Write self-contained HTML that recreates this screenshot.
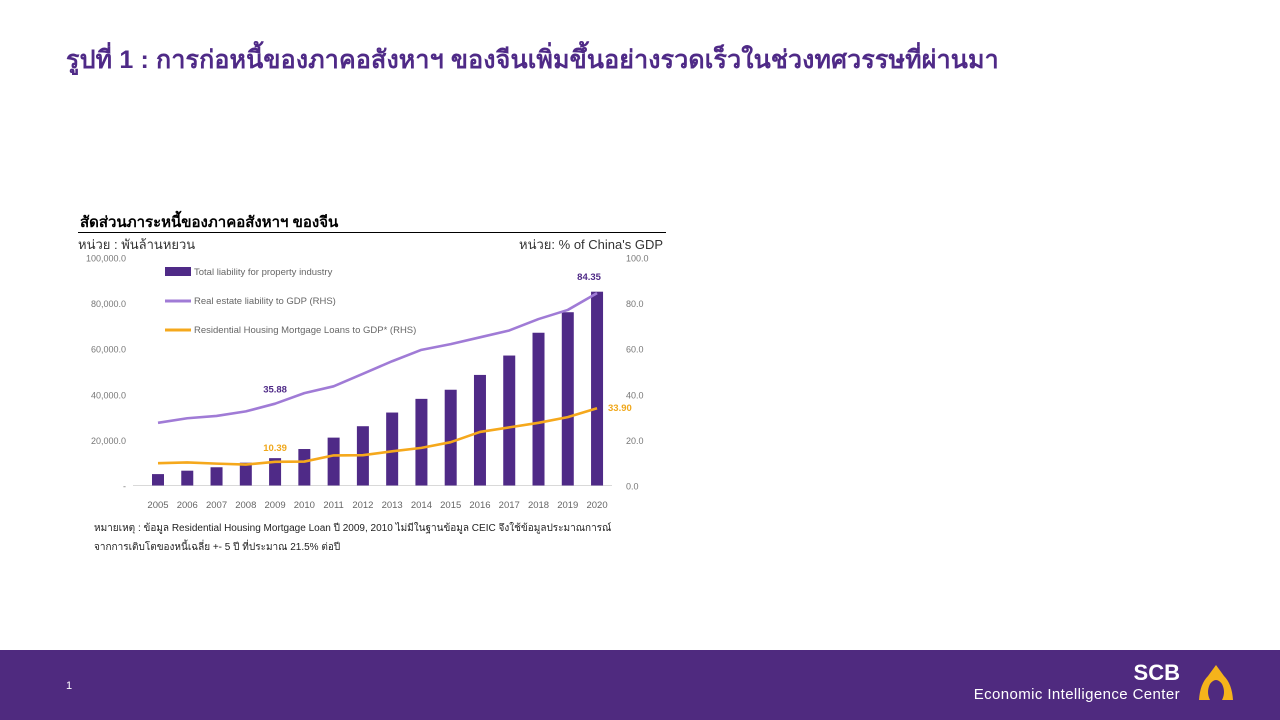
<!DOCTYPE html>
<html><head><meta charset="utf-8"><style>
body{margin:0;width:1280px;height:720px;background:#fff;position:relative;overflow:hidden;font-family:"Liberation Sans","Noto Sans CJK SC",sans-serif}
.t{position:absolute;white-space:nowrap}
</style></head><body>
<div class="t" style="left:66px;top:40px;font-size:25px;font-weight:bold;color:#4f2a87;letter-spacing:0.15px">รูปที่ 1 : การก่อหนี้ของภาคอสังหาฯ ของจีนเพิ่มขึ้นอย่างรวดเร็วในช่วงทศวรรษที่ผ่านมา</div>
<div class="t" style="left:80px;top:210px;font-size:15px;font-weight:bold;color:#000">สัดส่วนภาระหนี้ของภาคอสังหาฯ ของจีน</div>
<div style="position:absolute;left:78px;top:232px;width:588px;height:1px;background:#000"></div>
<div class="t" style="left:78px;top:234px;font-size:13px;color:#333">หน่วย : พันล้านหยวน</div>
<div class="t" style="right:617px;top:234px;font-size:13px;color:#333">หน่วย: % of China's GDP</div>
<svg id="chart" style="position:absolute;left:0;top:0" width="1280" height="720"></svg>
<div class="t" style="left:94px;top:519px;font-size:10px;color:#222;line-height:19px">หมายเหตุ : ข้อมูล Residential Housing Mortgage Loan ปี 2009, 2010 ไม่มีในฐานข้อมูล CEIC จึงใช้ข้อมูลประมาณการณ์<br>จากการเติบโตของหนี้เฉลี่ย +- 5 ปี ที่ประมาณ 21.5% ต่อปี</div>
<div style="position:absolute;left:0;top:650px;width:1280px;height:70px;background:#4f2a7f"></div>
<div class="t" style="left:66px;top:680px;font-size:11px;color:#fff">1</div>
<div class="t" style="right:100px;top:660px;font-size:22px;font-weight:bold;color:#fff">SCB</div>
<div class="t" style="right:100px;top:686px;font-size:15px;color:#fff;letter-spacing:0.4px">Economic Intelligence Center</div>
<svg style="position:absolute;left:1196px;top:662px" width="40" height="42"><path d="M20 3 L28 14 Q36 22 37 38 L26 38 Q30 30 26 22 Q20 14 14 22 Q10 30 14 38 L3 38 Q4 22 12 14 Z" fill="#f5b31b"/></svg>
<script>
const years=["2005","2006","2007","2008","2009","2010","2011","2012","2013","2014","2015","2016","2017","2018","2019","2020"];
const liability=[5000,6500,8000,10000,12000,16000,21000,26000,32000,38000,42000,48500,57000,67000,76000,85000];
const reToGdp=[27.5,29.5,30.5,32.5,35.88,40.5,43.5,49,54.5,59.5,62,65,68,73,77,84.35];
const mortToGdp=[9.8,10.1,9.6,9.2,10.39,10.5,13.2,13.3,15,16.5,19,23.5,25.5,27.5,30,33.9];
const leftTicks=["-","20,000.0","40,000.0","60,000.0","80,000.0","100,000.0"];
const rightTicks=["0.0","20.0","40.0","60.0","80.0","100.0"];
const NS="http://www.w3.org/2000/svg",svg=document.getElementById('chart');
const y0=485.5,h=228;
const yL=v=>y0-v/100000*h, yR=v=>y0-v/100*h, x=i=>158+i*29.27;
function mk(t,a,txt){const e=document.createElementNS(NS,t);for(const k in a)e.setAttribute(k,a[k]);if(txt!=null)e.textContent=txt;svg.appendChild(e);return e;}
let e=mk('line',{x1:133,x2:612,y1:y0,y2:y0,stroke:'#d9d9d9'});

leftTicks.forEach((t,i)=>{const el=mk('text',{x:126,y:yL(i*20000)+4,'text-anchor':'end','font-size':9,fill:'#777'},t);
});
rightTicks.forEach((t,i)=>{const el=mk('text',{x:626,y:yR(i*20)+4,'font-size':9,fill:'#777'},t);
});
years.forEach((t,i)=>{const el=mk('text',{x:x(i),y:508,'text-anchor':'middle','font-size':9.5,fill:'#666'},t);

const b=mk('rect',{x:x(i)-6,y:yL(liability[i]),width:12,height:y0-yL(liability[i]),fill:'#4f2a87'});
});
function line(d,c,n){const p=mk('polyline',{points:d.map((v,i)=>x(i)+','+yR(v)).join(' '),fill:'none',stroke:c,'stroke-width':2.6,'stroke-linejoin':'round'});
}
line(reToGdp,'#a07bd6','re-liability-line');
line(mortToGdp,'#f5a81c','mortgage-line');
function lab(txt,xx,yy,c,n,anc){const el=mk('text',{x:xx,y:yy,'font-size':9.5,'font-weight':'bold',fill:c,'text-anchor':anc||'middle'},txt);
}
lab(reToGdp[4].toFixed(2),x(4),yR(reToGdp[4])-11,'#4f2a87','label-re-2009');
lab(mortToGdp[4].toFixed(2),x(4),yR(mortToGdp[4])-11,'#f0a81c','label-mort-2009');
lab(reToGdp[15].toFixed(2),x(15)-8,yR(reToGdp[15])-13,'#4f2a87','label-re-2020');
lab(mortToGdp[15].toFixed(2),608,yR(mortToGdp[15])+3,'#f0a81c','label-mort-2020','start');
const leg=[['rect','#4f2a87','Total liability for property industry',271],['line','#a07bd6','Real estate liability to GDP (RHS)',300],['line','#f5a81c','Residential Housing Mortgage Loans to GDP* (RHS)',329]];
leg.forEach(([k,c,t,yy])=>{let m=k==='rect'?mk('rect',{x:165,y:yy-4,width:26,height:9,fill:c}):mk('line',{x1:165,x2:191,y1:yy+1,y2:yy+1,stroke:c,'stroke-width':3});

const el=mk('text',{x:194,y:yy+4,'font-size':9.5,fill:'#666'},t);
});
</script>
</body></html>
